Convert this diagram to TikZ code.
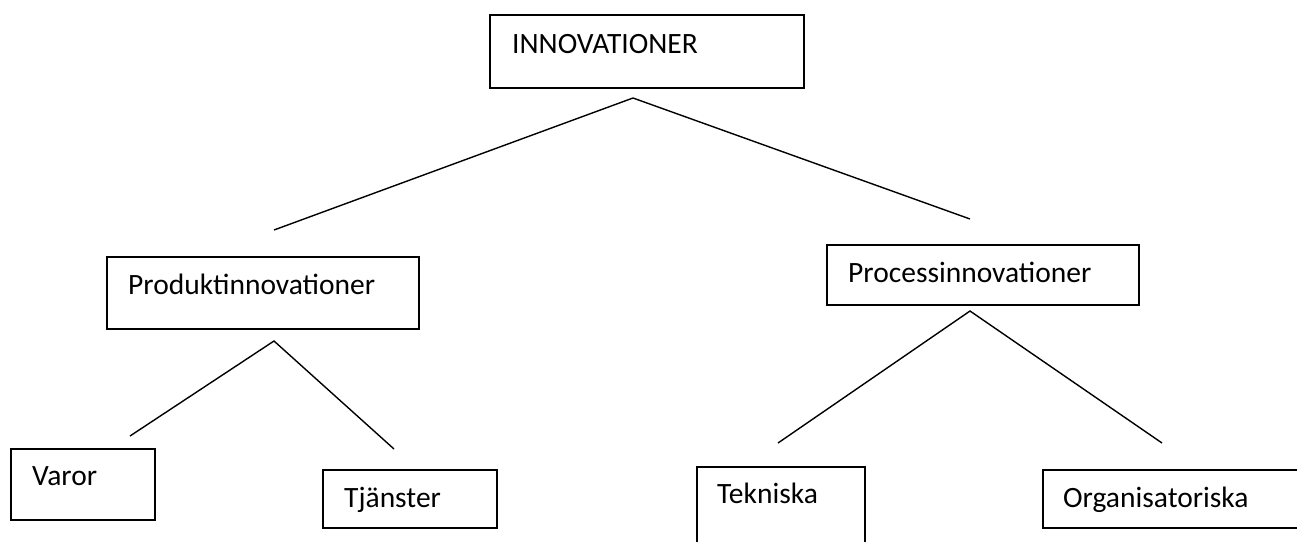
\documentclass[tikz,border=0pt]{standalone}
\usepackage{fontspec}
\setmainfont{Carlito}
\begin{document}
\begin{tikzpicture}[x=1pt,y=-1pt,
  box/.style={draw=black, line width=1.5pt, rectangle, inner sep=0pt, anchor=north west},
  lbl/.style={anchor=base west, inner sep=0pt, font=\fontsize{29.5}{34}\selectfont},
  conn/.style={draw=black, line width=1.4pt}]
\useasboundingbox (0,0) rectangle (1297,541);
\fill[white] (0,0) rectangle (1297,541);
\begin{scope}
\clip (0,0) rectangle (1297,541);
% boxes
\node[box, minimum width=314pt, minimum height=73pt] (innov) at (489,14) {};
\node[box, minimum width=312pt, minimum height=72pt] (produkt) at (106,256) {};
\node[box, minimum width=312pt, minimum height=60pt] (process) at (826,244) {};
\node[box, minimum width=144pt, minimum height=71pt] (varor) at (10,448) {};
\node[box, minimum width=174pt, minimum height=58pt] (tjanster) at (322,469) {};
\node[box, minimum width=168pt, minimum height=100pt] (tekniska) at (696,466) {};
\node[box, minimum width=280pt, minimum height=58pt] (organ) at (1042,469) {};
% texts
\node[lbl] (tinnov) at (512,53) {INNOVATIONER};
\node[lbl] (tprodukt) at (128,294) {Produktinnovationer};
\node[lbl] (tprocess) at (848,282) {Processinnovationer};
\node[lbl] (tvaror) at (32,485) {Varor};
\node[lbl] (ttjanster) at (344,507) {Tjänster};
\node[lbl] (ttekniska) at (717,503) {Tekniska};
\node[lbl] (torgan) at (1063,507) {Organisatoriska};
% connector points
\coordinate (a0) at (633,98);
\coordinate (a1) at (274,230);
\coordinate (a2) at (970,219);
\coordinate (b0) at (274,341);
\coordinate (b1) at (130,436);
\coordinate (b2) at (394,449);
\coordinate (c0) at (970,311);
\coordinate (c1) at (778,443);
\coordinate (c2) at (1162,443);
\draw[conn] (a1) -- (a0) -- (a2);
\draw[conn] (b1) -- (b0) -- (b2);
\draw[conn] (c1) -- (c0) -- (c2);
\end{scope}
\end{tikzpicture}
\end{document}
